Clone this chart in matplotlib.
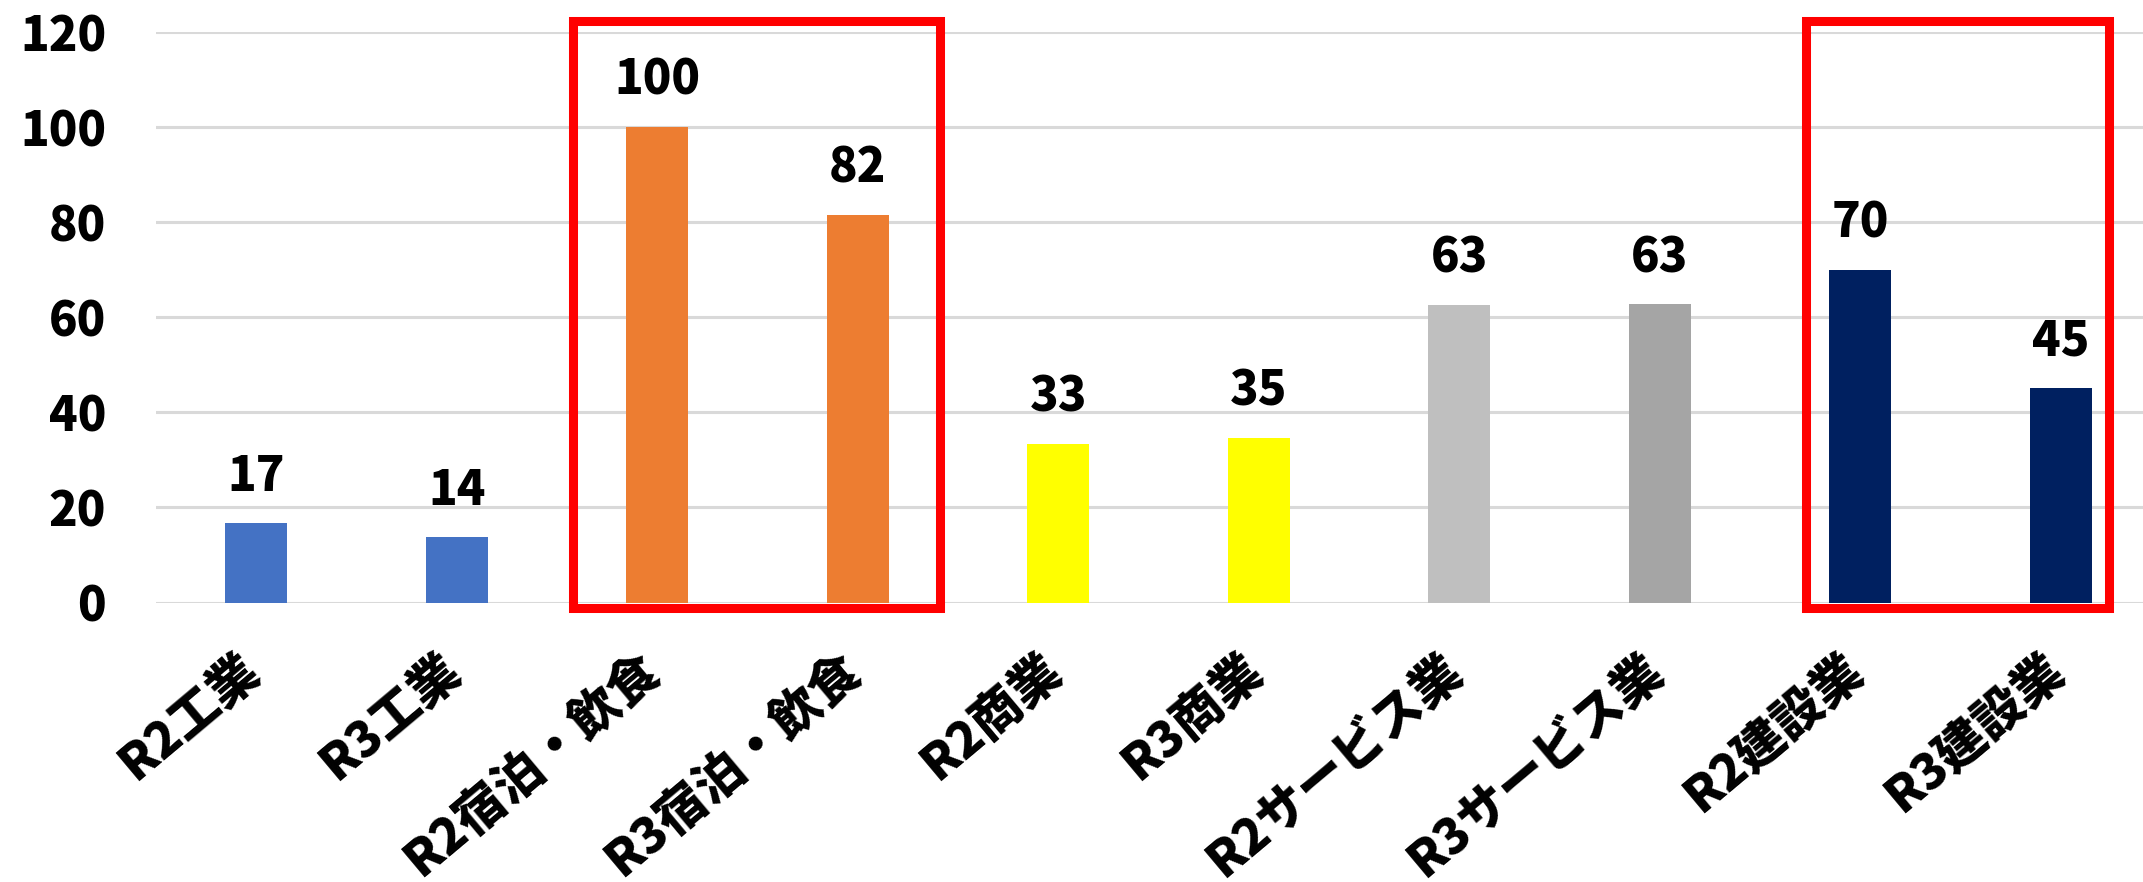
import matplotlib
matplotlib.use('Agg')
import matplotlib.pyplot as plt
import matplotlib.transforms as mtransforms
from matplotlib.patches import Rectangle

plt.rcParams['font.family'] = ['Noto Sans CJK JP', 'DejaVu Sans']
plt.rcParams['font.weight'] = 'heavy'

categories = ['R2工業', 'R3工業', 'R2宿泊・飲食', 'R3宿泊・飲食', 'R2商業', 'R3商業',
              'R2サービス業', 'R3サービス業', 'R2建設業', 'R3建設業']
values = [16.7, 13.8, 100, 81.6, 33.3, 34.6, 62.6, 62.7, 70.0, 45.1]
colors = ['#4472C4', '#4472C4', '#ED7D31', '#ED7D31', '#FFFF00', '#FFFF00',
          '#BFBFBF', '#A5A5A5', '#002060', '#002060']
yticks = [0, 20, 40, 60, 80, 100, 120]
# highlighted groups (x from, x to) in category units
boxes = [(1.58, 3.41), (7.73, 9.24)]

W, H = 2143, 882
fig = plt.figure(figsize=(W / 100, H / 100), dpi=100)
ax = fig.add_axes([156 / W, (H - 602.5) / H, (W - 156) / W, 570.5 / H])

x = list(range(len(categories)))
ax.bar(x, values, width=0.31, color=colors, zorder=3)

for xi, v in zip(x, values):
    ax.annotate('{:.0f}'.format(v), (xi, v), xytext=(0, 16), textcoords='offset points',
                ha='center', va='bottom', fontsize=34, fontweight='heavy', zorder=4)

for x0, x1 in boxes:
    ax.add_patch(Rectangle((x0, -1.2), x1 - x0, 123.5, fill=False, edgecolor='#FF0000',
                           linewidth=6.5, clip_on=False, zorder=5))

ax.set_xlim(-0.5, -0.5 + (W - 156) / 200.5)
ax.set_ylim(0, 120)
ax.set_yticks(yticks)
ax.yaxis.grid(True, color='#D9D9D9', linewidth=2.2, zorder=0)
ax.set_axisbelow(True)
for s in ax.spines.values():
    s.set_visible(False)
ax.tick_params(axis='y', length=0, labelsize=34, pad=36)
ax.tick_params(axis='x', length=0, labelsize=36)
ax.set_xticks(x)
ax.set_xticklabels(categories, rotation=40, ha='right', fontweight='heavy')
offset = mtransforms.ScaledTranslation(0.13, -0.37, fig.dpi_scale_trans)
for lab in ax.get_xticklabels():
    lab.set_transform(lab.get_transform() + offset)
for lab in ax.get_yticklabels():
    lab.set_fontweight('heavy')

fig.savefig('out.png', dpi=100)
